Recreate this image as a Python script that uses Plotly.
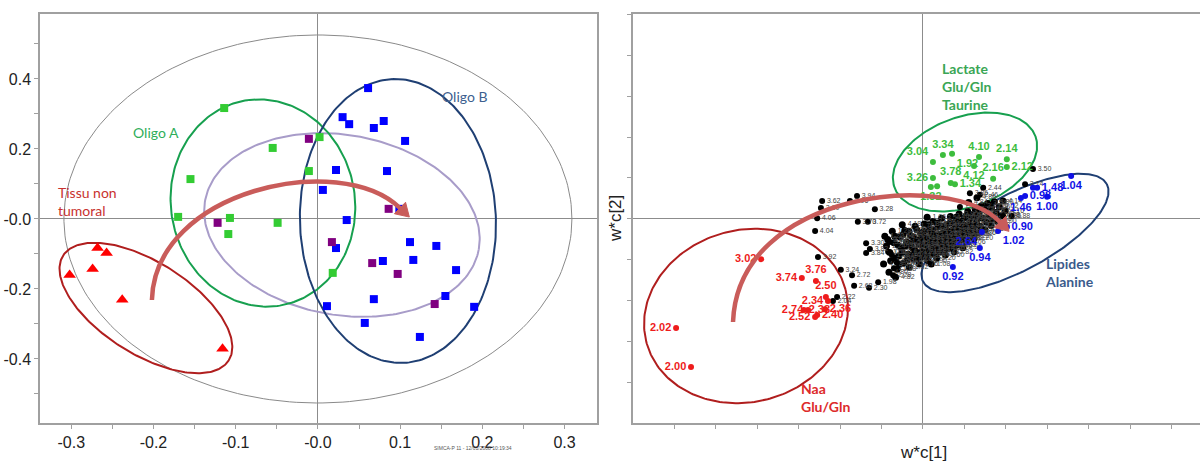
import numpy as np
import plotly.graph_objects as go

# ---------------- Scores plot (t[1] / t[2]) ----------------
tissue_x = [-0.268, -0.257, -0.274, -0.302, -0.238, -0.116]
tissue_y = [-0.083, -0.097, -0.143, -0.160, -0.231, -0.371]

oligoA_x = [-0.114, -0.055, -0.155, -0.170, -0.107, -0.049, -0.109, 0.002, -0.011, 0.018]
oligoA_y = [0.317, 0.203, 0.114, 0.006, 0.003, -0.011, -0.043, 0.234, 0.137, -0.154]

mixed_x = [-0.122, -0.011, 0.086, 0.017, 0.066, 0.097, 0.142]
mixed_y = [-0.011, 0.229, 0.029, -0.066, -0.126, -0.157, -0.243]

oligoB_x = [0.061, 0.030, 0.038, 0.068, 0.080, 0.106, 0.022, 0.084, 0.006, 0.099,
            0.035, 0.022, 0.112, 0.144, 0.079, 0.116, 0.168, 0.068, 0.155, 0.011,
            0.190, 0.057, 0.124]
oligoB_y = [0.374, 0.291, 0.271, 0.260, 0.280, 0.223, 0.140, 0.137, 0.083, 0.029,
            -0.003, -0.083, -0.066, -0.077, -0.120, -0.117, -0.146, -0.229, -0.220, -0.249,
            -0.251, -0.297, -0.337]

score_xticks = [-0.3, -0.25, -0.2, -0.15, -0.1, -0.05, 0.0, 0.05, 0.1, 0.15, 0.2, 0.25, 0.3]
score_xlabels = ["-0.3", "", "-0.2", "", "-0.1", "", "-0.0", "", "0.1", "", "0.2", "", "0.3"]
score_yticks = [-0.5, -0.4, -0.3, -0.2, -0.1, 0.0, 0.1, 0.2, 0.3, 0.4, 0.5]
score_ylabels = ["", "-0.4", "", "-0.2", "", "-0.0", "", "0.2", "", "0.4", ""]

# ---------------- Loadings plot (w*c[1] / w*c[2]) ----------------
# dense central cluster of spectral bins
cluster_x = [
    -0.92, -0.88, -0.78, -0.74, -0.70,
    -0.62, -0.58, -0.55, -0.52, -0.47,
    -0.44, -0.40, -0.36, -0.33, -0.30,
    -0.26, -0.22, -0.19, -0.16, -0.12,
    -0.09, -0.06, -0.03, 0.00, 0.03,
    0.07, 0.11, 0.12, 0.15, 0.18,
    0.19, 0.24, 0.27, 0.30, 0.33,
    0.36, 0.41, 0.42, 0.45, 0.48,
    0.51, 0.54, 0.57, 0.60, 0.61,
    0.66, 0.69, 0.72, 0.75, 0.78,
    0.81, 0.82, 0.87, 0.90, 0.93,
    0.96, 0.99, 1.02, 1.05, 1.08,
    1.13, 1.14, 1.17, 1.20, 1.23,
    1.26, 1.29, 1.30, 1.35, 1.38,
    1.41, 1.44, 1.49, 1.50, 1.53,
    1.56, 1.59, 1.64, 1.65, 1.68,
    1.72, 1.76, 1.80, 1.84, 1.88,
    1.93, 1.98, -0.50, 0.10, 0.20,
    -0.85, -0.80, -0.68, -0.66, -0.60,
    -0.57, -0.50, -0.48, -0.42, -0.38,
    -0.34, -0.29, -0.27, -0.23, -0.20,
    -0.15, -0.13, -0.10, -0.05, -0.02,
    0.02, 0.05, 0.08, 0.13, 0.16,
    0.20, 0.23, 0.28, 0.31, 0.34,
    0.38, 0.43, 0.46, 0.50, 0.55,
    0.58, 0.62, 0.65, 0.70, 0.74,
    0.77, 0.80, 0.85, 0.89, 0.92,
    0.97, 1.01, 1.04, 1.09, 1.12,
    1.18, 1.22, 1.25, 1.33, 1.37,
    -0.95, -0.82, -0.66, 1.10, 1.30]
cluster_y = [
    -0.42, -0.66, -1.02, -0.30, -0.58,
    -1.22, -0.90, -0.44, -0.70, -1.08,
    -0.28, -0.56, -0.86, -1.18, -0.40,
    -0.70, -0.98, -0.18, -0.52, -0.82,
    -1.10, -0.34, -0.64, -0.92, -0.12,
    -0.46, -0.76, -1.02, -0.28, -0.58,
    -0.86, -0.06, -0.40, -0.70, -0.96,
    -0.20, -0.52, -0.80, 0.02, -0.34,
    -0.62, -0.88, -0.14, -0.46, -0.72,
    0.06, -0.28, -0.56, -0.80, -0.08,
    -0.40, -0.64, 0.12, -0.22, -0.50,
    -0.70, 0.02, -0.32, -0.56, 0.18,
    -0.14, -0.42, 0.06, -0.24, -0.48,
    0.24, -0.06, -0.34, 0.14, -0.18,
    0.32, 0.02, -0.26, 0.22, -0.08,
    0.38, 0.10, -0.16, 0.28, 0.00,
    0.42, 0.16, -0.06, 0.30, 0.08,
    0.44, 0.20, -0.14, 0.04, -1.10,
    -0.50, -0.82, -0.42, -0.95, -0.64,
    -1.10, -0.82, -0.38, -0.66, -1.00,
    -0.30, -0.58, -0.88, -0.44, -0.76,
    -0.26, -0.98, -0.62, -0.48, -0.80,
    -0.30, -0.62, -0.90, -0.14, -0.44,
    -0.72, -0.26, -0.54, -0.84, -0.10,
    -0.38, -0.64, -0.18, -0.48, -0.72,
    -0.30, -0.58, -0.10, -0.42, -0.66,
    -0.22, 0.04, -0.50, -0.34, -0.06,
    -0.44, -0.16, 0.08, -0.28, -0.02,
    -0.36, 0.12, -0.16, 0.02, -0.32,
    -1.10, -1.30, -1.42, 0.40, 0.52]
cluster_ppm = [
    "1.22", "1.24", "1.26", "1.28", "1.30",
    "1.38", "1.40", "1.42", "1.44", "1.50",
    "1.52", "1.54", "1.60", "1.62", "1.64",
    "1.66", "1.68", "1.70", "1.72", "1.74",
    "1.76", "1.78", "1.80", "1.82", "1.84",
    "1.86", "1.88", "1.90", "1.94", "1.96",
    "2.06", "2.08", "2.10", "2.18", "2.20",
    "2.32", "2.42", "2.48", "2.54", "2.56",
    "2.58", "2.60", "2.62", "2.66", "2.70",
    "2.76", "2.78", "2.80", "2.82", "2.84",
    "2.86", "2.88", "2.90", "2.92", "2.94",
    "2.96", "2.98", "3.00", "3.06", "3.08",
    "3.10", "3.12", "3.16", "3.18", "3.20",
    "3.22", "3.32", "3.36", "3.38", "3.40",
    "3.42", "3.44", "3.46", "3.48", "3.52",
    "3.54", "3.56", "3.58", "3.66", "3.68",
    "3.80", "3.98", "4.00", "4.02", "4.08",
    "4.14", "4.16", "4.18", "1.06", "1.08",
    "0.50", "0.52", "0.54", "0.56", "0.58",
    "0.60", "0.62", "0.64", "0.66", "0.68",
    "0.70", "0.72", "0.74", "0.76", "0.78",
    "0.80", "0.82", "0.84", "0.96", "1.10",
    "1.12", "1.14", "1.16", "1.18", "1.20",
    "3.64", "4.20", "4.22", "4.24", "4.26",
    "4.28", "4.30", "4.32", "4.34", "4.36",
    "4.38", "4.40", "4.42", "4.44", "4.46",
    "4.48", "4.50", "4.52", "4.54", "4.56",
    "4.58", "4.60", "4.62", "4.64", "4.66",
    "4.68", "4.70", "4.72", "4.74", "4.76",
    "4.78", "4.80", "4.82", "4.84", "4.86"]

# isolated bins around the cluster
black_x = [-2.43, -2.46, -2.55, -1.59, -1.76, -1.16, -1.57, -1.33, -2.60, -2.53,
           -1.98, -1.71, -1.66, -1.30, -1.08, -2.07, -2.17, -1.37, -1.28, -1.37,
           -0.84, -0.80, -0.84, -0.75, -0.72, -0.70, -0.63, 1.13, 1.45, 1.37,
           0.89, 2.65, 2.46, 1.93, 2.14]
black_y = [0.44, 0.27, 0.02, 0.56, 0.44, 0.24, -0.07, -0.07, -0.29, -0.93,
           -1.24, -1.37, -1.63, -1.68, -1.54, -1.90, -2.00, -0.59, -0.73, -0.83,
           -0.51, -0.56, -0.80, -0.88, -1.37, -1.20, -1.07, 0.63, 0.76, 0.59,
           0.29, 1.22, 0.85, 0.07, 0.07]
black_ppm = ["3.62", "3.60", "4.06", "3.94", "3.96", "3.28", "3.70", "3.72", "4.04", "3.92",
             "3.24", "2.72", "2.68", "2.30", "1.98", "2.22", "2.04", "3.30", "3.82", "3.84",
             "3.88", "3.90", "1.56", "1.58", "2.28", "2.26", "2.24", "3.86", "2.44", "2.46",
             "1.36", "3.50", "3.14", "0.86", "0.88"]

green_x = [0.24, 0.48, 0.70, 1.35, 2.02, 2.02, 1.23, 1.69, 0.24, 0.67, 0.77, 0.19, 0.34]
green_y = [1.39, 1.56, 1.59, 1.51, 1.46, 1.27, 1.29, 0.98, 1.00, 0.88, 0.85, 0.78, 0.80]
green_ppm = ["3.04", "3.34", "1.92", "4.10", "2.14", "2.12", "4.12", "2.16", "3.26", "3.78",
             "1.34", "1.32", ""]

blue_x = [2.75, 2.65, 2.46, 2.36, 2.99, 3.57, 2.02, 1.81, 1.42, 1.37, 0.72]
blue_y = [0.76, 0.76, 0.56, 0.51, 0.54, 1.05, -0.20, -0.29, -0.32, -0.71, -1.17]
blue_ppm = ["1.48", "", "0.98", "1.46", "1.00", "1.04", "0.90", "1.02", "2.64", "0.94", "0.92"]

red_x = [-3.90, -2.92, -2.58, -2.34, -2.29, -2.77, -2.87, -2.36, -2.60, -2.55, -5.95, -5.59]
red_y = [-0.98, -1.44, -1.51, -1.90, -2.00, -2.22, -2.22, -2.20, -2.39, -2.34, -2.66, -3.61]
red_ppm = ["3.02", "3.74", "3.76", "2.50", "2.34", "2.74", "2.38", "2.36", "2.52", "2.40",
           "2.02", "2.00"]

# label placement around each coloured loading point
green_pos = ["top left", "top center", "bottom right", "top center", "top center", "middle right",
             "bottom center", "top center", "middle left", "top center", "middle right",
             "bottom center", "middle right"]
blue_pos = ["middle right", "middle right", "middle right", "bottom center", "bottom center",
            "bottom center", "middle right", "bottom right", "bottom left", "bottom center",
            "bottom center"]
red_pos = ["middle left", "middle left", "top center", "top center", "middle left", "middle left",
           "middle right", "middle right", "middle left", "middle right", "middle left",
           "middle left"]

# ---------------- geometry ----------------
W, H = 1200, 461
L_DOM_X = [40 / W, 597 / W]
R_DOM_X = [633 / W, 1.0]
DOM_Y = [38 / H, 447 / H]
L_XR = [-0.338, 0.3394]
L_YR = [-0.5829, 0.5857]
R_XR = [-6.988, 6.675]
R_YR = [-4.976, 5.0]

# screen pixels per data unit in each panel
SXL = (L_DOM_X[1] - L_DOM_X[0]) * W / (L_XR[1] - L_XR[0])
SYL = (DOM_Y[1] - DOM_Y[0]) * H / (L_YR[1] - L_YR[0])
SXR = (R_DOM_X[1] - R_DOM_X[0]) * W / (R_XR[1] - R_XR[0])
SYR = (DOM_Y[1] - DOM_Y[0]) * H / (R_YR[1] - R_YR[0])

ARIAL = "Arial, Liberation Sans, sans-serif"
HUMAN = "Lato, Open Sans, sans-serif"


def ellipse(cx, cy, a, b, ang, sx, sy):
    """Outline of a rotated ellipse; a, b in screen px, ang in degrees."""
    t = np.linspace(0, 2 * np.pi, 240)
    c, s = np.cos(np.radians(ang)), np.sin(np.radians(ang))
    dx = a * np.cos(t) * c - b * np.sin(t) * s
    dy = a * np.cos(t) * s + b * np.sin(t) * c
    return cx + dx / sx, cy + dy / sy


def curved_arrow(p0, c1, c2, p3, xref, yref, sx, sy, color, width=4.5, head=13, half=8):
    body = dict(type="path", xref=xref, yref=yref, layer="above",
                path=f"M {p0[0]},{p0[1]} C {c1[0]},{c1[1]} {c2[0]},{c2[1]} {p3[0]},{p3[1]}",
                line=dict(color=color, width=width), fillcolor="rgba(0,0,0,0)")
    ux, uy = (p3[0] - c2[0]) * sx, (p3[1] - c2[1]) * sy
    n = np.hypot(ux, uy)
    ux, uy = ux / n, uy / n
    tip = (p3[0] + head * ux / sx, p3[1] + head * uy / sy)
    b1 = (p3[0] - half * uy / sx, p3[1] + half * ux / sy)
    b2 = (p3[0] + half * uy / sx, p3[1] - half * ux / sy)
    tip_shape = dict(type="path", xref=xref, yref=yref, layer="above",
                     path=f"M {tip[0]},{tip[1]} L {b1[0]},{b1[1]} L {b2[0]},{b2[1]} Z",
                     line=dict(color=color, width=1), fillcolor=color)
    return [body, tip_shape]


fig = go.Figure()

# ---- score plot ellipses ----
score_ellipses = [
    ((0.0, 0.0, 254, 184, 0), "#8a8a8a", 1),            # Hotelling T2
    ((0.0292, -0.0171, 139, 90, -10), "#a89cc9", 2),    # mixed group
    ((-0.0669, 0.0457, 104, 92, 100), "#17a04f", 2),    # Oligo A
    ((0.0973, -0.0057, 142, 98, 92), "#1f3f73", 2),     # Oligo B
    ((-0.2092, -0.2543, 98, 46, -32.3), "#b01e1e", 2),  # normal tissue
]
for (cx, cy, a, b, ang), col, lw in score_ellipses:
    ex, ey = ellipse(cx, cy, a, b, ang, SXL, SYL)
    fig.add_trace(go.Scatter(x=ex, y=ey, mode="lines", line=dict(color=col, width=lw),
                             xaxis="x", yaxis="y", hoverinfo="skip"))

fig.add_trace(go.Scatter(x=oligoA_x, y=oligoA_y, mode="markers", xaxis="x", yaxis="y",
                         marker=dict(symbol="square", size=8, color="#33cc33")))
fig.add_trace(go.Scatter(x=oligoB_x, y=oligoB_y, mode="markers", xaxis="x", yaxis="y",
                         marker=dict(symbol="square", size=8, color="#0000ff")))
fig.add_trace(go.Scatter(x=mixed_x, y=mixed_y, mode="markers", xaxis="x", yaxis="y",
                         marker=dict(symbol="square", size=8, color="#800080")))
fig.add_trace(go.Scatter(x=tissue_x, y=tissue_y, mode="markers", xaxis="x", yaxis="y",
                         marker=dict(symbol="triangle-up", size=11, color="#ff0000")))

# ---- loading plot ellipses ----
loading_ellipses = [
    ((1.012, 1.390, 75, 45, 20), "#17a04f"),
    ((2.217, -0.341, 104, 38, 28), "#1f3f73"),
    ((-4.265, -2.366, 103, 86, 15), "#b01e1e"),
]
for (cx, cy, a, b, ang), col in loading_ellipses:
    ex, ey = ellipse(cx, cy, a, b, ang, SXR, SYR)
    fig.add_trace(go.Scatter(x=ex, y=ey, mode="lines", line=dict(color=col, width=2),
                             xaxis="x2", yaxis="y2", hoverinfo="skip"))

small_txt = dict(family=ARIAL, size=7, color="#444444")
fig.add_trace(go.Scatter(x=cluster_x, y=cluster_y, text=cluster_ppm, mode="markers+text",
                         textposition="middle right", textfont=small_txt,
                         marker=dict(size=7, color="#000000"), xaxis="x2", yaxis="y2"))
fig.add_trace(go.Scatter(x=black_x, y=black_y, text=black_ppm, mode="markers+text",
                         textposition="middle right", textfont=small_txt,
                         marker=dict(size=6, color="#000000"), xaxis="x2", yaxis="y2"))

for xs, ys, lab, pos, col in [
    (red_x, red_y, red_ppm, red_pos, "#ee1c1c"),
    (green_x, green_y, green_ppm, green_pos, "#3dbd3d"),
    (blue_x, blue_y, blue_ppm, blue_pos, "#1010e6"),
]:
    fig.add_trace(go.Scatter(x=xs, y=ys, text=lab, mode="markers+text", textposition=pos,
                             textfont=dict(family=ARIAL, size=11, color=col, weight="bold"),
                             marker=dict(size=6, color=col), xaxis="x2", yaxis="y2"))

# ---- curved trend arrows ----
arrow_col = "#c95c5a"
shapes = []
shapes += curved_arrow((-0.2019, -0.2314), (-0.1983, 0.0829), (0.0268, 0.1971), (0.0998, 0.0314),
                       "x", "y", SXL, SYL, arrow_col)
shapes += curved_arrow((-4.578, -2.512), (-4.458, 0.707), (0.651, 1.195), (1.855, -0.073),
                       "x2", "y2", SXR, SYR, arrow_col)

# ---- text labels ----
ann = []


def label(txt, x, y, col, xref, yref, size=14, bold=False, xanchor="center"):
    ann.append(dict(text=txt, x=x, y=y, xref=xref, yref=yref, showarrow=False,
                    xanchor=xanchor, yanchor="middle", align="left",
                    font=dict(family=HUMAN, size=size, color=col,
                              weight="bold" if bold else "normal")))


label("Oligo A", -0.197, 0.246, "#2fae5a", "x", "y")
label("Oligo B", 0.178, 0.351, "#3d5f8f", "x", "y")
label("Tissu non<br>tumoral", -0.319, 0.051, "#c8312e", "x", "y", xanchor="left")
label("Lactate<br>Glu/Gln<br>Taurine", 0.41, 3.22, "#3aa655", "x2", "y2", bold=True, xanchor="left")
label("Lipides<br>Alanine", 2.89, -1.30, "#3b5b8c", "x2", "y2", bold=True, xanchor="left")
label("Naa<br>Glu/Gln", -2.99, -4.35, "#dd2b2b", "x2", "y2", bold=True, xanchor="left")

ann.append(dict(text="w*c[1]", x=923 / W, y=1 - 452 / H, xref="paper", yref="paper",
                showarrow=False, xanchor="center", yanchor="middle",
                font=dict(family=ARIAL, size=17, color="#222222")))
ann.append(dict(text="w*c[2]", x=615 / W, y=1 - 219 / H, xref="paper", yref="paper",
                showarrow=False, xanchor="center", yanchor="middle", textangle=-90,
                font=dict(family=ARIAL, size=17, color="#222222")))
ann.append(dict(text="SIMCA-P 11 - 12/01/2008 10:19:34", x=473 / W, y=1 - 448 / H,
                xref="paper", yref="paper", showarrow=False, xanchor="center",
                yanchor="middle", font=dict(family=ARIAL, size=5, color="#555555")))

frame = "#a0a0a0"
tickfont = dict(family=ARIAL, size=16, color="#222222")
common = dict(showgrid=False, zeroline=True, zerolinecolor="#8c8c8c", zerolinewidth=1,
              showline=True, linecolor=frame, linewidth=1.5, ticks="outside", ticklen=4,
              tickcolor=frame)

fig.update_layout(
    width=W, height=H, autosize=False,
    margin=dict(l=0, r=0, t=0, b=0),
    paper_bgcolor="white", plot_bgcolor="white",
    showlegend=False, hovermode=False,
    xaxis=dict(domain=L_DOM_X, range=L_XR, anchor="y", mirror=True,
               tickmode="array", tickvals=score_xticks, ticktext=score_xlabels,
               tickfont=tickfont, **common),
    yaxis=dict(domain=DOM_Y, range=L_YR, anchor="x", mirror=True,
               tickmode="array", tickvals=score_yticks, ticktext=score_ylabels,
               tickfont=tickfont, **common),
    xaxis2=dict(domain=R_DOM_X, range=R_XR, anchor="y2", mirror=True,
                tickmode="linear", tick0=0, dtick=1, showticklabels=False, **common),
    yaxis2=dict(domain=DOM_Y, range=R_YR, anchor="x2", mirror=False,
                tickmode="linear", tick0=0, dtick=1, showticklabels=False, **common),
    shapes=shapes,
    annotations=ann,
)

fig.write_html("out.html")
